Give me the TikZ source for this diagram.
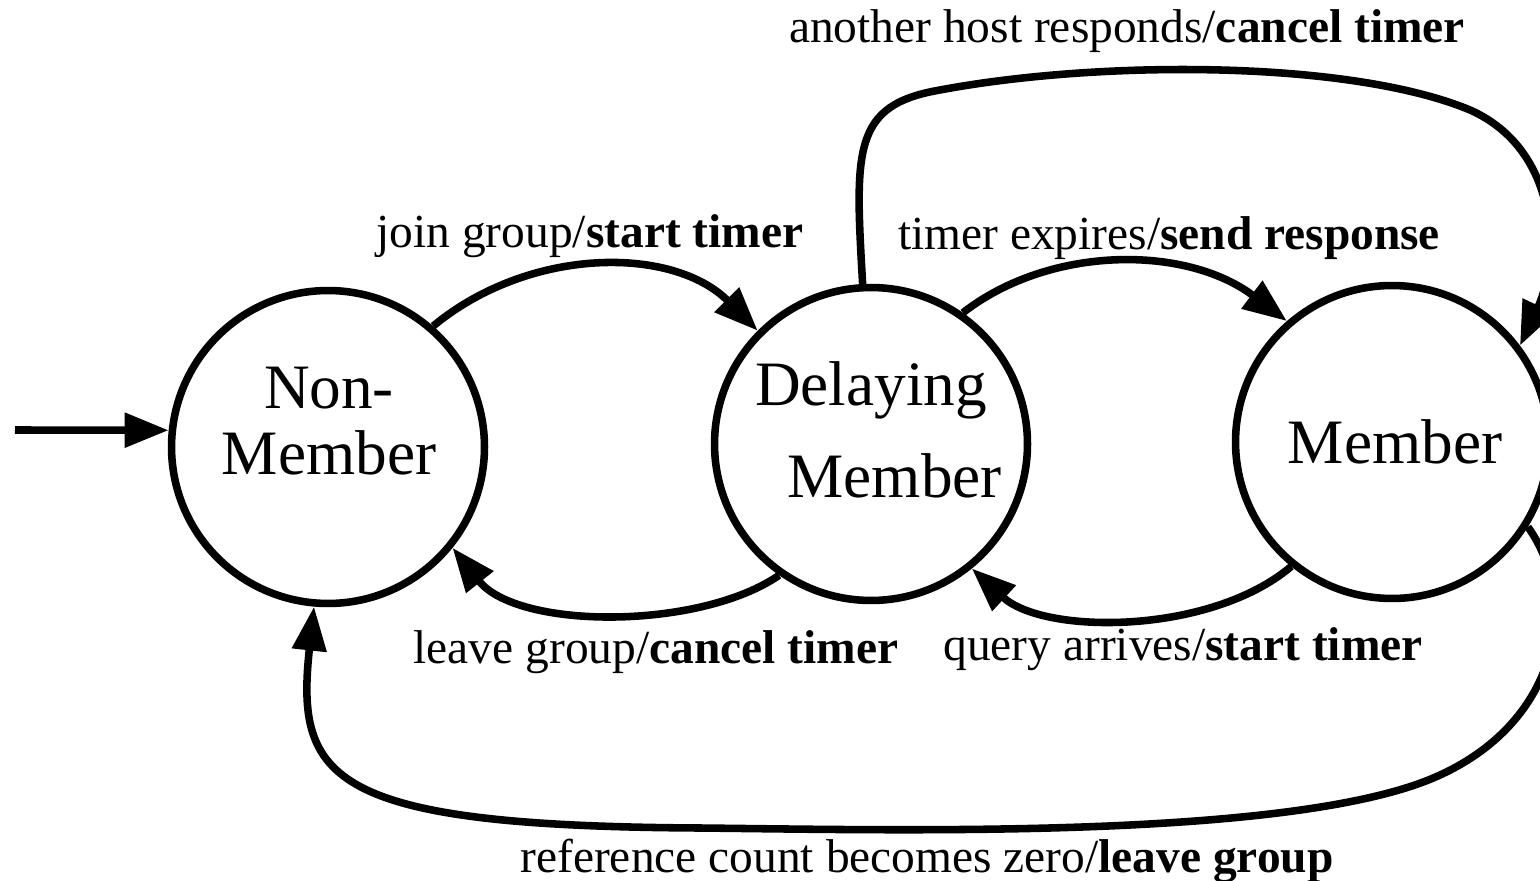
\documentclass[tikz,border=0pt]{standalone}
\usepackage{fontspec}
\setmainfont{Liberation Serif}
\usetikzlibrary{arrows.meta}

\begin{document}
\begin{tikzpicture}[x=0.02cm, y=-0.02cm, line width=4.3pt,
  state/.style={draw, circle, minimum size=6.26cm, inner sep=0pt},
  statetext/.style={align=center, font=\fontsize{36}{38}\selectfont},
  trans/.style={-{Triangle[length=25pt, width=19pt]}},
  translabel/.style={anchor=base, font=\fontsize{27}{30}\selectfont}]
  \useasboundingbox (0,0) rectangle (1540,881);
  \clip (0,0) rectangle (1540,881);

  % states
  \node[state] (nm) at (328,447) {};
  \node[state] (dm) at (871,444) {};
  \node[state] (mm) at (1392,442) {};
  \node[statetext] (nmtext) at (329,421) {Non-\\Member};
  \node[statetext, font=\fontsize{36}{52}\selectfont] (dmtext) at (871,430) {Delaying\\\hspace*{27pt}Member};
  \node[statetext] (mmtext) at (1395,442) {Member};

  % initial arrow
  \coordinate (init) at (15,430);
  \draw[trans] (init) -- (nm.174);

  % transitions between neighbours
  \draw[trans] (nm.49) .. controls (530,246) and (673,246) .. (dm.135);
  \draw[trans] (dm.235) .. controls (700,630) and (518,630) .. (nm.321);
  \draw[trans] (dm.55) .. controls (1050,245) and (1186,245) .. (mm.131);
  \draw[trans] (mm.231) .. controls (1210,635) and (1044,635) .. (dm.309);

  % long loops
  \draw[trans] (dm.93) .. controls (855,150) and (852,105) .. (940,90)
    .. controls (1100,60) and (1350,60) .. (1470,110)
    .. controls (1560,150) and (1560,260) .. (mm.37);
  \draw[trans] (mm.328) .. controls (1580,600) and (1560,720) .. (1440,775)
    .. controls (1300,840) and (900,830) .. (700,828)
    .. controls (330,826) and (295,780) .. (nm.265);

  % labels
  \node[translabel] (lhost) at (1127,43) {another host responds/\textbf{cancel timer}};
  \node[translabel] (ljoin) at (590,248) {join group/\textbf{start timer}};
  \node[translabel] (lexp) at (1169,250) {timer expires/\textbf{send response}};
  \node[translabel] (lleave) at (656,663) {leave group/\textbf{cancel timer}};
  \node[translabel] (lquery) at (1183,660) {query arrives/\textbf{start timer}};
  \node[translabel] (lref) at (927,872) {reference count becomes zero/\textbf{leave group}};
\end{tikzpicture}
\end{document}
